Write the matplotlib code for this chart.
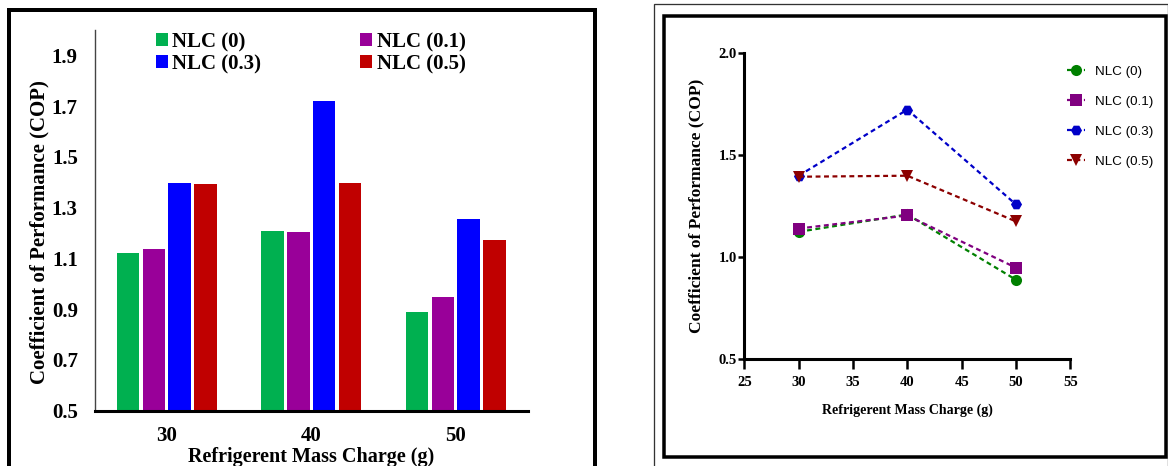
import matplotlib
matplotlib.use("Agg")
import matplotlib.pyplot as plt
import numpy as np
from matplotlib.patches import Rectangle, Patch
from matplotlib.font_manager import FontProperties

# ---- data ----
charges = [30, 40, 50]
series_labels = ["NLC (0)", "NLC (0.1)", "NLC (0.3)", "NLC (0.5)"]
cop_nlc0 = [1.122, 1.207, 0.887]
cop_nlc01 = [1.138, 1.202, 0.946]
cop_nlc03 = [1.397, 1.721, 1.256]
cop_nlc05 = [1.392, 1.397, 1.173]
bar_yticks = [0.5, 0.7, 0.9, 1.1, 1.3, 1.5, 1.7, 1.9]
line_yticks = [0.5, 1.0, 1.5, 2.0]
line_xticks = [25, 30, 35, 40, 45, 50, 55]

series = [cop_nlc0, cop_nlc01, cop_nlc03, cop_nlc05]
bar_colors = ["#00B050", "#990099", "#0000FF", "#C00000"]
line_colors = ["#008000", "#800080", "#0000C8", "#8C0000"]
line_markers = ["o", "s", "H", "v"]

W, H = 1168, 466
fig = plt.figure(figsize=(W / 100, H / 100), dpi=100)
fig.patch.set_facecolor("white")

def fx(px):
    return px / W

def fy(py):
    return 1 - py / H

SERIF = "Liberation Serif"
PX = 0.72  # points per pixel at 100 dpi

def serif_bold(size):
    return FontProperties(family=SERIF, weight="bold", size=size)

# ---------------- left panel (bars) ----------------
axL = fig.add_axes([fx(94.5), fy(410.5), fx(528 - 94.5), (410.5 - 30) / H])
x = np.arange(len(charges))
pitch = 0.179
bw = 0.155
offsets = (np.arange(4) - 1.5) * pitch
handles = []
for i, (vals, col, lab) in enumerate(zip(series, bar_colors, series_labels)):
    axL.bar(x + offsets[i], np.array(vals) - 0.5, bottom=0.5, width=bw,
            color=col, edgecolor="none", zorder=2)
    handles.append(Patch(facecolor=col, edgecolor="none", label=lab))
axL.set_xlim(-0.5, 2.5)
axL.set_ylim(0.5, 2.0)
axL.set_yticks(bar_yticks)
axL.set_yticklabels([f"{v:.1f}" for v in bar_yticks])
axL.set_xticks(x)
axL.set_xticklabels([str(c) for c in charges])
for s in ["top", "right"]:
    axL.spines[s].set_visible(False)
axL.spines["left"].set_color("#444444")
axL.spines["left"].set_linewidth(1.0)
axL.spines["bottom"].set_color("black")
axL.spines["bottom"].set_linewidth(2.2)
axL.tick_params(axis="both", length=0)
axL.tick_params(axis="y", pad=12)
axL.tick_params(axis="x", pad=11.5)
for t in axL.get_xticklabels() + axL.get_yticklabels():
    t.set_fontproperties(serif_bold(15))
axL.set_xlabel("Refrigerent Mass Charge (g)", fontproperties=serif_bold(14.5))
axL.xaxis.set_label_coords(0.5, (410.5 - 457) / 380.5)
axL.xaxis.label.set_va("center")
fig.text(fx(39), fy(232), "Coefficient of Performance (COP)", rotation=90,
         ha="center", va="center", fontproperties=serif_bold(15))
leg_order = [0, 2, 1, 3]
axL.legend([handles[i] for i in leg_order],
           [series_labels[i] for i in leg_order],
           ncol=2, loc="upper left", frameon=False,
           bbox_to_anchor=(fx(156), fy(32)), bbox_transform=fig.transFigure,
           borderpad=0, borderaxespad=0, handlelength=0.57,
           handleheight=0.57, handletextpad=0.22, columnspacing=4.75,
           labelspacing=0.1, prop=serif_bold(15))

# left panel frame
fig.add_artist(Rectangle((fx(8.5), -0.05), fx(595 - 8.5), fy(9.5) + 0.05,
                         transform=fig.transFigure, fill=False,
                         edgecolor="black", linewidth=4 * PX))

# ---------------- right panel (lines) ----------------
axR = fig.add_axes([fx(744.4), fy(358.7), fx(1070.3 - 744.4), (358.7 - 52.7) / H])
for vals, col, mk, lab in zip(series, line_colors, line_markers, series_labels):
    axR.plot(charges, vals, linestyle=(0, (2.2, 1.6)), linewidth=1.6,
             color=col, marker=mk, markersize=8, markeredgewidth=0,
             label=lab, zorder=3, clip_on=False)
axR.set_xlim(25, 55)
axR.set_ylim(0.5, 2.0)
axR.set_xticks(line_xticks)
axR.set_yticks(line_yticks)
axR.set_xticklabels([str(v) for v in line_xticks])
axR.set_yticklabels([f"{v:.1f}" for v in line_yticks])
for s in ["top", "right"]:
    axR.spines[s].set_visible(False)
for s in ["left", "bottom"]:
    axR.spines[s].set_linewidth(2.2)
    axR.spines[s].set_color("black")
axR.tick_params(axis="x", direction="out", length=7, width=1.8, pad=5.5)
axR.tick_params(axis="y", direction="out", length=4.5, width=1.8, pad=1)
for t in axR.get_xticklabels() + axR.get_yticklabels():
    t.set_fontproperties(serif_bold(10.5))
axR.set_xlabel("Refrigerent Mass Charge (g)", fontproperties=serif_bold(10))
axR.xaxis.set_label_coords(0.5, (358.7 - 410) / 306)
axR.xaxis.label.set_va("center")
axR.set_ylabel("Coefficient of Performance (COP)", fontproperties=serif_bold(12.5))
axR.yaxis.set_label_coords((696.7 - 744.4) / 325.9, 0.5)
axR.yaxis.label.set_va("center")
axR.legend(loc="upper left", frameon=False,
           bbox_to_anchor=(fx(1067), fy(65.5)), bbox_transform=fig.transFigure,
           borderpad=0, borderaxespad=0, handlelength=1.35,
           handletextpad=0.75, labelspacing=1.33,
           prop=FontProperties(family="Liberation Sans", size=9.6))

# right panel frames
fig.add_artist(Rectangle((fx(654), -0.05), fx(1167.5 - 654), fy(3.5) + 0.05,
                         transform=fig.transFigure, fill=False,
                         edgecolor="#333333", linewidth=1.3 * PX))
fig.add_artist(Rectangle((fx(664), fy(456.5)), fx(1165.5 - 664), (456.5 - 15.7) / H,
                         transform=fig.transFigure, fill=False,
                         edgecolor="black", linewidth=3.5 * PX))

fig.savefig("out.png", dpi=100)
